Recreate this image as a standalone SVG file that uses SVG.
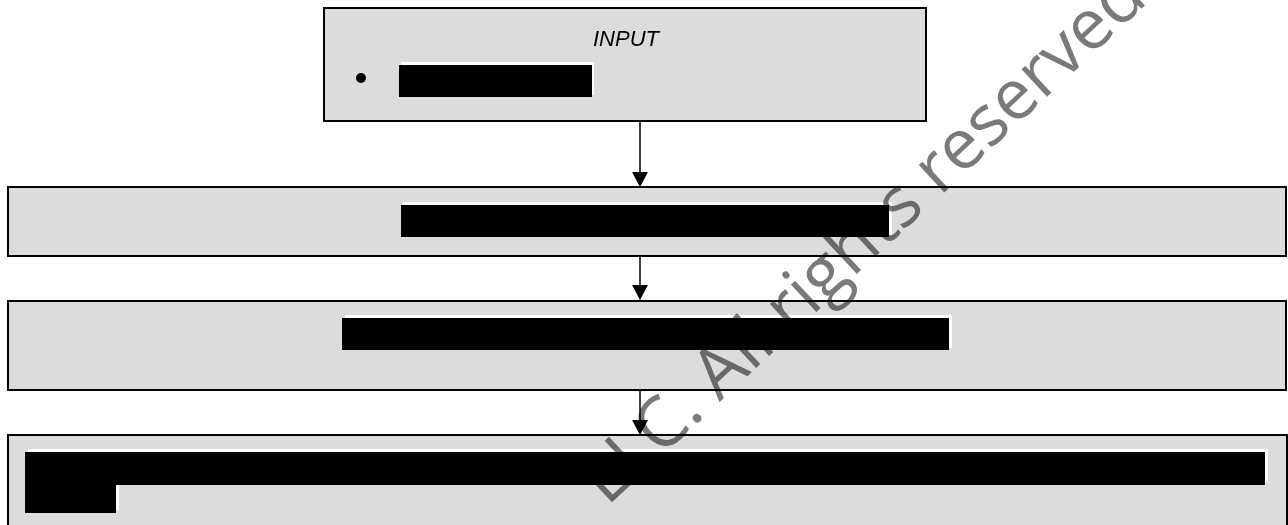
<svg xmlns="http://www.w3.org/2000/svg" width="1288" height="525" viewBox="0 0 1288 525">
<defs>
<style>
.box{fill:#dcdcdc;stroke:#000;stroke-width:2}
.red{fill:#000}
.sh{fill:#fff}
.conn{stroke:#000;stroke-width:1.5;fill:none}
.lbl{font-family:"Liberation Sans",Arial,sans-serif;font-style:italic;font-size:22px;fill:#000}
.wm{font-family:"Open Sans","Noto Sans",sans-serif;font-size:70px;fill:#7a7a7a;mix-blend-mode:multiply}
</style>
</defs>
<rect width="1288" height="525" fill="#fff"/>
<g id="node-input">
<rect class="box" x="324" y="8" width="602" height="113"/>
<text class="lbl" x="626" y="46" text-anchor="middle">INPUT</text>
<circle cx="361" cy="78" r="5" fill="#000"/>
<rect class="sh" x="401" y="62" width="193" height="33"/>
<rect class="red" x="399" y="65" width="193" height="32"/>
</g>
<g id="node-step1">
<rect class="box" x="8" y="187" width="1278" height="69"/>
<rect class="sh" x="403" y="202" width="489" height="33"/>
<rect class="red" x="401" y="205" width="488" height="32"/>
</g>
<g id="node-step2">
<rect class="box" x="8" y="301" width="1278" height="89"/>
<rect class="sh" x="345" y="315" width="607" height="33"/>
<rect class="red" x="342" y="318" width="607" height="32"/>
</g>
<g id="node-step3">
<rect class="box" x="8" y="435" width="1279" height="100"/>
<rect class="sh" x="28" y="449" width="1240" height="33"/>
<rect class="sh" x="28" y="482" width="91" height="28"/>
<rect class="red" x="25" y="452" width="1240" height="33"/>
<rect class="red" x="25" y="485" width="91" height="28"/>
</g>
<g id="connectors">
<line class="conn" x1="640" y1="121" x2="640" y2="172"/>
<path d="M632,172 L648,172 L640,187 Z" fill="#000"/>
<line class="conn" x1="640" y1="256" x2="640" y2="286"/>
<path d="M632,285 L648,285 L640,300 Z" fill="#000"/>
<line class="conn" x1="640" y1="390" x2="640" y2="420"/>
<path d="M632,420 L648,420 L640,435 Z" fill="#000"/>
</g>
<g id="watermark">
<text class="wm" transform="translate(607,507) rotate(-43)">LLC. All rights reserved</text>
</g>
</svg>
